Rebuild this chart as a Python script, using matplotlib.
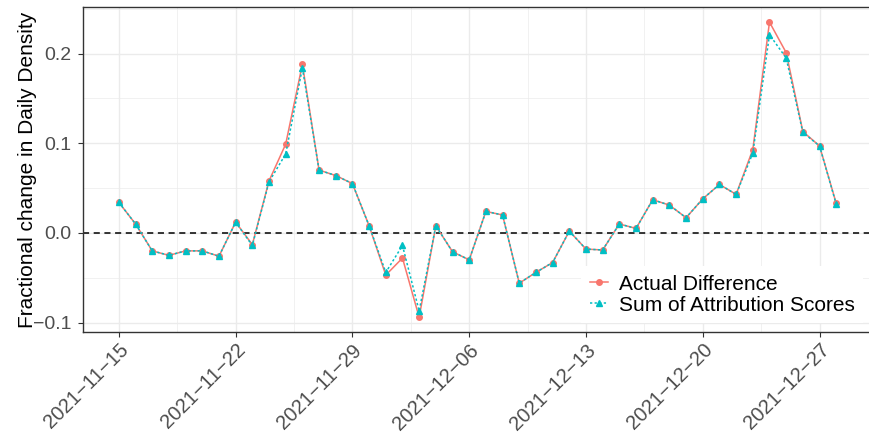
import numpy as np
import pandas as pd
import matplotlib
matplotlib.use("Agg")
import matplotlib.pyplot as plt
import matplotlib.dates as mdates
from matplotlib.ticker import FixedLocator, MultipleLocator, FuncFormatter

plt.rcParams['font.family'] = ['Liberation Sans', 'DejaVu Sans']

# ---- data ----
dates = pd.date_range('2021-11-15', '2021-12-28', freq='D')
actual_diff = [0.034, 0.010, -0.020, -0.025, -0.020, -0.020, -0.026, 0.012,
               -0.013, 0.058, 0.099, 0.188, 0.070, 0.064, 0.055, 0.008,
               -0.047, -0.028, -0.094, 0.008, -0.021, -0.030, 0.024, 0.020,
               -0.056, -0.044, -0.033, 0.002, -0.018, -0.019, 0.010, 0.005,
               0.037, 0.031, 0.017, 0.038, 0.054, 0.043, 0.093, 0.235,
               0.201, 0.113, 0.097, 0.033]
attr_sum = [0.034, 0.010, -0.020, -0.025, -0.020, -0.020, -0.026, 0.012,
            -0.014, 0.057, 0.088, 0.184, 0.070, 0.064, 0.055, 0.008,
            -0.044, -0.014, -0.087, 0.008, -0.021, -0.030, 0.024, 0.020,
            -0.056, -0.044, -0.033, 0.002, -0.018, -0.019, 0.010, 0.005,
            0.037, 0.031, 0.017, 0.038, 0.054, 0.043, 0.089, 0.221,
            0.195, 0.112, 0.097, 0.032]
week_ticks = pd.date_range('2021-11-15', '2021-12-27', freq='7D')
week_labels = [d.strftime('%Y-%m-%d').replace('-', '\u2212') for d in week_ticks]

red = '#F8766D'
teal = '#00BFC4'

fig = plt.figure(figsize=(8.7, 4.34), dpi=100)
# panel runs a little past the right edge of the image, as in the reference
ax = fig.add_axes([0.0954, 0.235, 0.907, 0.748])

ax.axhline(0, color='black', ls=(0, (4, 3)), lw=1.1, zorder=2)
ax.plot(dates, actual_diff, color=red, lw=1.1, marker='o', ms=4,
        label='Actual Difference', zorder=3)
ax.plot(dates, attr_sum, color=teal, lw=1.1, ls=(0, (1.5, 1.5)), marker='^',
        ms=4.5, label='Sum of Attribution Scores', zorder=4)

# ggplot-like 5% expansion
x0 = mdates.date2num(dates[0])
x1 = mdates.date2num(dates[-1])
pad = (x1 - x0) * 0.05
ax.set_xlim(x0 - pad, x1 + pad)
ymin = min(min(actual_diff), min(attr_sum))
ymax = max(max(actual_diff), max(attr_sum))
ypad = (ymax - ymin) * 0.05
ax.set_ylim(ymin - ypad, ymax + ypad)

tick_nums = mdates.date2num(week_ticks)
ax.xaxis.set_major_locator(FixedLocator(tick_nums))
ax.xaxis.set_minor_locator(FixedLocator(np.append(tick_nums - 3.5, tick_nums[-1] + 3.5)))
ax.set_xticklabels(week_labels, rotation=45, ha='right', va='top',
                   rotation_mode='anchor', fontsize=14.5, color='#4D4D4D')
ax.yaxis.set_major_locator(MultipleLocator(0.1))
ax.yaxis.set_minor_locator(MultipleLocator(0.05))
ax.yaxis.set_major_formatter(FuncFormatter(lambda v, p: f'{v:.1f}'.replace('-', '\u2212')))
ax.tick_params(axis='y', labelsize=14, labelcolor='#4D4D4D', pad=5)
ax.tick_params(axis='x', pad=2.5)
ax.tick_params(which='major', length=3.5, color='#333333', width=0.8)
ax.tick_params(which='minor', length=0)

ax.grid(which='major', color='#EBEBEB', lw=1.0, zorder=0)
ax.grid(which='minor', color='#EBEBEB', lw=0.5, zorder=0)
ax.set_axisbelow(True)
for s in ax.spines.values():
    s.set_color('#333333')
    s.set_linewidth(1.0)

ax.set_ylabel('Fractional change in Daily Density', fontsize=15)
ax.yaxis.set_label_coords(-0.058, 0.5)

leg = ax.legend(loc='lower right', bbox_to_anchor=(0.9886, 0.028),
                borderaxespad=0, fontsize=15, frameon=True, fancybox=False,
                edgecolor='none', framealpha=1.0, handlelength=0.9,
                handletextpad=0.5, labelspacing=0.1, borderpad=0.4)
leg.get_frame().set_linewidth(0)

fig.savefig('out.png', dpi=100)
